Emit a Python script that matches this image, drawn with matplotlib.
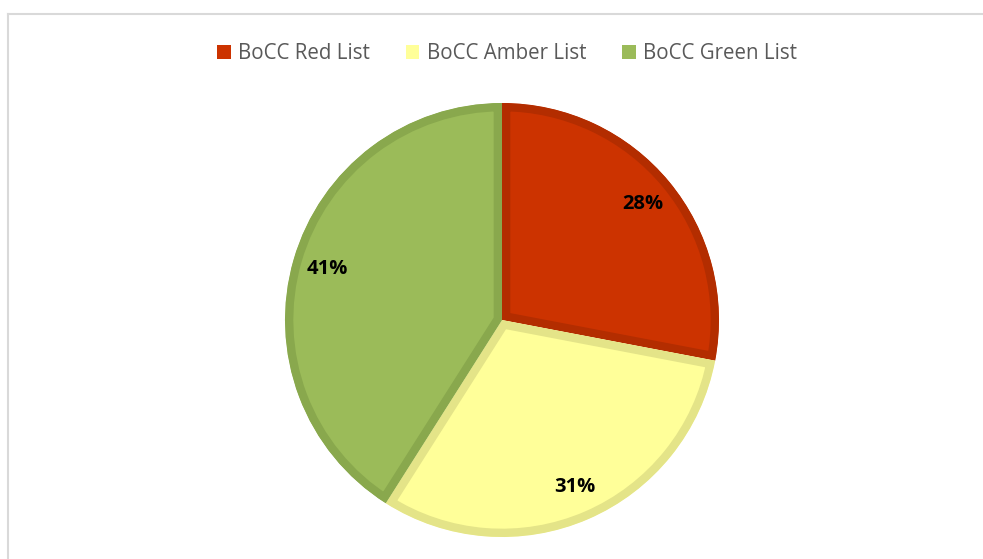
import matplotlib
matplotlib.use("Agg")
import matplotlib.pyplot as plt
from matplotlib.patches import Patch
from matplotlib.lines import Line2D

categories = ["BoCC Red List", "BoCC Amber List", "BoCC Green List"]
values = [28, 31, 41]
fill_colors = ["#CC3300", "#FFFF99", "#9BBB59"]
edge_colors = ["#B32D00", "#E4E488", "#89A84D"]

W, H = 983, 559
fig = plt.figure(figsize=(W / 100, H / 100), dpi=100)
ax = fig.add_axes([0, 0, 1, 1])
ax.set_xlim(0, W)
ax.set_ylim(0, H)
ax.set_aspect("equal")
ax.axis("off")

# chart frame (top and left lines visible)
ax.add_line(Line2D([8, 8], [0, H - 14], color="#D9D9D9", lw=1.5))
ax.add_line(Line2D([8, W], [H - 14, H - 14], color="#D9D9D9", lw=1.5))

cx, cy, r = 502, H - 320, 217
wedges, texts, autotexts = ax.pie(
    values, colors=fill_colors, startangle=90, counterclock=False,
    center=(cx, cy), radius=r, autopct="%1.0f%%", pctdistance=0.84,
    wedgeprops=dict(linewidth=12, joinstyle="miter"),
    textprops=dict(fontsize=14.5, fontweight="bold", color="black", family="Open Sans"),
    frame=True,
)
for w, ec in zip(wedges, edge_colors):
    w.set_edgecolor(ec)
    w.set_clip_on(True)
    w.set_clip_path(w)
ax.set_xlim(0, W)
ax.set_ylim(0, H)
ax.axis("off")

handles = [Patch(facecolor=c, edgecolor="none") for c in fill_colors]
fig.legend(handles, categories, loc="center", bbox_to_anchor=(507 / W, 1 - 54 / H),
           ncol=3, frameon=False, handlelength=0.66, handleheight=0.66,
           handletextpad=0.35, columnspacing=1.75,
           prop=dict(family="Open Sans", size=14.8), labelcolor="#595959")

fig.savefig("out.png", dpi=100)
